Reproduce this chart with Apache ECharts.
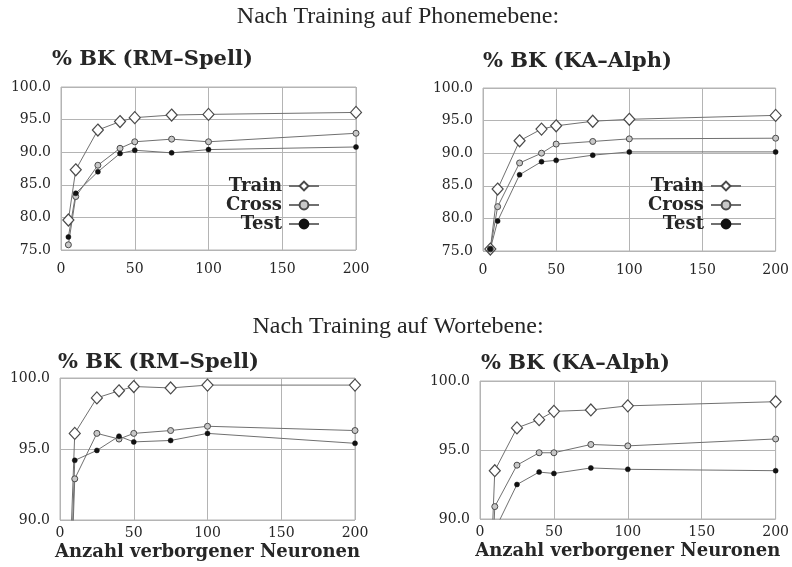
<!DOCTYPE html>
<html>
<head>
<meta charset="utf-8">
<script src="https://cdn.jsdelivr.net/npm/echarts@6/dist/echarts.min.js"></script>
<style>
  html, body { margin: 0; padding: 0; background: #fff; }
  #chart { width: 792px; height: 567px; }
</style>
</head>
<body>
<div id="chart"></div>
<script>
// Number of hidden neurons (x values shared by all panels)
const neurons = [5, 10, 25, 40, 50, 75, 100, 200];

// Recognition rate (% BK) after training on phoneme level
const phoneRmTrain = [79.6, 87.3, 93.4, 94.7, 95.3, 95.7, 95.8, 96.1];
const phoneRmCross = [75.8, 83.2, 88.0, 90.6, 91.6, 92.0, 91.6, 92.9];
const phoneRmTest  = [77.0, 83.7, 87.0, 89.8, 90.3, 89.9, 90.4, 90.8];
const phoneKaTrain = [75.3, 84.5, 91.9, 93.7, 94.2, 94.9, 95.2, 95.8];
const phoneKaCross = [75.3, 81.8, 88.5, 90.0, 91.4, 91.8, 92.2, 92.3];
const phoneKaTest  = [75.3, 79.6, 86.7, 88.7, 88.9, 89.7, 90.2, 90.2];

// Recognition rate (% BK) after training on word level
const wordRmTrain = [82.0, 96.1, 98.6, 99.1, 99.4, 99.3, 99.5, 99.5];
const wordRmCross = [78.0, 92.9, 96.1, 95.7, 96.1, 96.3, 96.6, 96.3];
const wordRmTest  = [79.0, 94.2, 94.9, 95.9, 95.5, 95.6, 96.1, 95.4];
const wordKaTrain = [80.0, 93.5, 96.6, 97.2, 97.8, 97.9, 98.2, 98.5];
const wordKaCross = [78.0, 90.9, 93.9, 94.8, 94.8, 95.4, 95.3, 95.8];
const wordKaTest  = [77.0, 89.2, 92.5, 93.4, 93.3, 93.7, 93.6, 93.5];

// Texts
const headings = ['Nach Training auf Phonemebene:', 'Nach Training auf Wortebene:'];
const panelTitles = ['% BK (RM\u2013Spell)', '% BK (KA\u2013Alph)', '% BK (RM\u2013Spell)', '% BK (KA\u2013Alph)'];
const xAxisName = 'Anzahl verborgener Neuronen';
const seriesNames = ['Train', 'Cross', 'Test'];
const xTicks = { min: 0, max: 200, interval: 50 };
const yPhone = { min: 75, max: 100, interval: 5 };
const yWord = { min: 90, max: 100, interval: 5 };

const panelData = [
  [phoneRmTrain, phoneRmCross, phoneRmTest],
  [phoneKaTrain, phoneKaCross, phoneKaTest],
  [wordRmTrain, wordRmCross, wordRmTest],
  [wordKaTrain, wordKaCross, wordKaTest]
];

const SERIF = '"DejaVu Serif", serif';
const INK = '#262626';
const LINE = '#707070';
const GRID = '#b4b4b4';

const grids = [
  { left: 61, top: 87, width: 295, height: 163 },
  { left: 483, top: 88, width: 295, height: 163 },
  { left: 60, top: 378, width: 295, height: 142 },
  { left: 480, top: 381, width: 297, height: 138 }
].map(g => Object.assign({ show: true, borderColor: GRID, borderWidth: 1, containLabel: false }, g));

const xAxes = grids.map((g, i) => ({
  type: 'value', gridIndex: i,
  min: xTicks.min, max: xTicks.max, interval: xTicks.interval,
  axisLine: { show: false }, axisTick: { show: false },
  splitLine: { show: true, lineStyle: { color: GRID, width: 1 } },
  axisLabel: { color: INK, fontFamily: SERIF, fontSize: 14, margin: i < 2 ? 12 : 6 },
  name: i >= 2 ? xAxisName : '',
  nameLocation: 'middle', nameGap: 23,
  nameTextStyle: { color: INK, fontFamily: SERIF, fontSize: 18, fontWeight: 'bold' }
}));

const yAxes = grids.map((g, i) => {
  const r = i < 2 ? yPhone : yWord;
  return {
    type: 'value', gridIndex: i,
    min: r.min, max: r.max, interval: r.interval,
    axisLine: { show: false }, axisTick: { show: false },
    splitLine: { show: true, lineStyle: { color: GRID, width: 1 } },
    axisLabel: { color: INK, fontFamily: SERIF, fontSize: 14, margin: 10,
      formatter: v => v.toFixed(1) }
  };
});

const markerStyles = [
  { symbol: 'diamond', symbolSize: [11, 12], itemStyle: { color: '#fff', borderColor: '#4a4a4a', borderWidth: 1.2 } },
  { symbol: 'circle', symbolSize: 6, itemStyle: { color: '#c8c8c8', borderColor: '#4a4a4a', borderWidth: 1 } },
  { symbol: 'circle', symbolSize: 5, itemStyle: { color: '#111', borderColor: '#111', borderWidth: 0.5 } }
];

const series = [];
panelData.forEach((trio, p) => {
  trio.forEach((vals, k) => {
    series.push(Object.assign({
      name: seriesNames[k], type: 'line',
      xAxisIndex: p, yAxisIndex: p,
      data: neurons.map((n, j) => [n, vals[j]]),
      showAllSymbol: true, clip: true, animation: false,
      lineStyle: { color: LINE, width: 1 },
      emphasis: { disabled: true }
    }, markerStyles[k]));
  });
});

const titles = [
  { text: headings[0], left: 398, top: 5 },
  { text: headings[1], left: 398, top: 315 }
].map(t => ({
  text: t.text, left: t.left, top: t.top, textAlign: 'center', padding: 0,
  textStyle: { color: INK, fontFamily: '"Liberation Serif", serif', fontSize: 24, fontWeight: 'normal' }
})).concat([
  { left: 52, top: 49 }, { left: 483, top: 51 }, { left: 58, top: 352 }, { left: 481, top: 353 }
].map((pos, i) => ({
  text: panelTitles[i], left: pos.left, top: pos.top, padding: 0,
  textStyle: { color: INK, fontFamily: SERIF, fontSize: 21, fontWeight: 'bold' }
})));

const legendBase = {
  orient: 'vertical', align: 'right', itemGap: 1, itemWidth: 30, itemHeight: 11,
  padding: 0, selectedMode: false,
  textStyle: { color: INK, fontFamily: SERIF, fontSize: 18, fontWeight: 'bold', padding: [0, 2, 0, 0] },
  data: seriesNames
};

const chart = echarts.init(document.getElementById('chart'), null, { renderer: 'canvas' });
chart.setOption({
  backgroundColor: '#fff',
  animation: false,
  title: titles,
  legend: [
    Object.assign({ right: 792 - 320, top: 177 }, legendBase),
    Object.assign({ right: 792 - 742, top: 177 }, legendBase)
  ],
  grid: grids,
  xAxis: xAxes,
  yAxis: yAxes,
  series: series
});
</script>
</body>
</html>
